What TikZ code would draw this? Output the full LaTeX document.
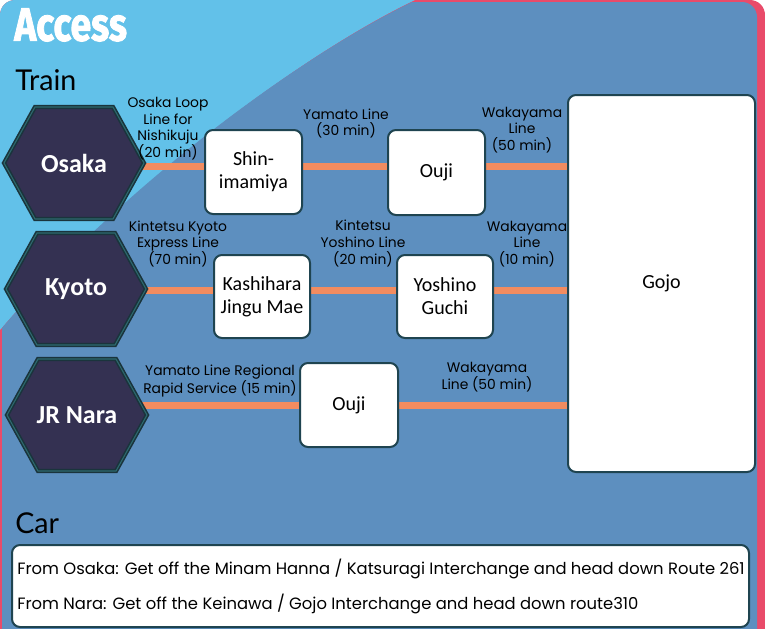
\documentclass[tikz,border=0pt]{standalone}
\usepackage{fontspec}
\usepackage{graphicx}
\setmainfont{Poppins}
\newfontfamily\labfont{Poppins}
\newfontfamily\stafont{Carlito}
\newfontfamily\headfont{Lato}
\newfontfamily\ttlfont{Fira Sans}[BoldFeatures={FakeBold=2}]
\definecolor{pinkbg}{RGB}{233,75,106}
\definecolor{lightbg}{RGB}{98,193,233}
\definecolor{darkbg}{RGB}{93,143,191}
\definecolor{hexfill}{RGB}{52,49,82}
\definecolor{hexline}{RGB}{26,52,60}
\definecolor{hexinner}{RGB}{45,105,110}
\definecolor{boxline}{RGB}{31,68,80}
\definecolor{railc}{RGB}{242,140,96}
\pgfdeclarelayer{back}
\pgfdeclarelayer{wires}
\pgfsetlayers{back,wires,main}
\tikzset{
  stationbox/.style={draw=boxline, line width=1.5pt, fill=white, rounded corners=6pt,
    align=center, inner sep=0pt, font=\stafont\fontsize{15}{17.25}\selectfont},
  hexlabel/.style={text=white, inner sep=0pt, font=\stafont\bfseries\fontsize{19.5}{22}\selectfont},
  linelabel/.style={align=center, inner sep=0pt, font=\labfont\fontsize{10.4}{12.5}\selectfont},
  railline/.style={draw=railc, line width=5.25pt},
  hexbody/.style={draw=hexline, line width=3.2pt, fill=hexfill, line join=miter},
  hexring/.style={draw=hexinner, line width=0.8pt, line join=miter},
  heading/.style={anchor=west, inner sep=0pt, font=\headfont\fontsize{21.5}{24}\selectfont},
  cartext/.style={anchor=west, inner sep=0pt, font=\labfont\fontsize{12.3}{14}\selectfont}
}
\newcommand\hexat[2]{%
  \path[hexbody] (#1-70,#2) -- (#1-39,#2-56) -- (#1+39,#2-56) -- (#1+70,#2) -- (#1+39,#2+56) -- (#1-39,#2+56) -- cycle;
  \path[hexring] (#1-70,#2) -- (#1-39,#2-56) -- (#1+39,#2-56) -- (#1+70,#2) -- (#1+39,#2+56) -- (#1-39,#2+56) -- cycle;}
\begin{document}
\begin{tikzpicture}[x=0.75pt,y=-0.75pt]
\useasboundingbox (0,0) rectangle (765,629);
% background
\begin{pgfonlayer}{back}
\fill[white] (0,0) rectangle (765,629);
\fill[pinkbg] (0,629) -- (0,15) arc[start angle=180,end angle=90,radius=15*0.75pt] -- (750,0) arc[start angle=90,end angle=0,radius=15*0.75pt] -- (765,629) -- cycle;
\fill[lightbg] (0,330) -- (0,15) arc[start angle=180,end angle=90,radius=15*0.75pt] -- (415,0) .. controls (300,55) and (120,190) .. (0,330) -- cycle;
\fill[darkbg] (2,629) -- (2,328) .. controls (120,188) and (300,56) .. (412,2) -- (742,2) arc[start angle=90,end angle=0,radius=15*0.75pt] -- (757,629) -- cycle;
\end{pgfonlayer}
% title and headings
\node[anchor=west, inner sep=0pt, text=white] (title) at (14,25) {\scalebox{0.8}[1]{\ttlfont\bfseries\fontsize{35}{37}\selectfont Access}};
\node[heading] (train) at (15,80) {Train};
\node[heading] (car) at (15,523) {Car};
% hexagons
\hexat{74}{163}
\hexat{76}{289}
\hexat{77}{415}
\node[hexlabel] (osaka) at (74,163) {Osaka};
\node[hexlabel] (kyoto) at (76,289) {Kyoto};
\node[hexlabel] (nara) at (77,415) {JR Nara};
% stations
\node[stationbox, minimum width=97*0.75pt, minimum height=84*0.75pt] (shin) at (253.5,172) {Shin-\\imamiya};
\node[stationbox, minimum width=97*0.75pt, minimum height=85*0.75pt] (oujia) at (436.5,172.5) {Ouji};
\node[stationbox, minimum width=187*0.75pt, minimum height=377*0.75pt] (gojo) at (661.5,283.5) {Gojo};
\node[stationbox, minimum width=96*0.75pt, minimum height=83*0.75pt] (kashi) at (262,296.5) {Kashihara\\Jingu Mae};
\node[stationbox, minimum width=96*0.75pt, minimum height=83*0.75pt] (yoshi) at (445,296.5) {Yoshino\\Guchi};
\node[stationbox, minimum width=98*0.75pt, minimum height=84*0.75pt] (oujib) at (349,405) {Ouji};
% rails
\begin{pgfonlayer}{wires}
\draw[railline] (osaka.center |- 0,166) -- (shin.center |- 0,166);
\draw[railline] (shin.center |- 0,166) -- (oujia.center |- 0,166);
\draw[railline] (oujia.center |- 0,166) -- (gojo.center |- 0,166);
\draw[railline] (kyoto.center |- 0,290) -- (kashi.center |- 0,290);
\draw[railline] (kashi.center |- 0,290) -- (yoshi.center |- 0,290);
\draw[railline] (yoshi.center |- 0,290) -- (gojo.center |- 0,290);
\draw[railline] (nara.center |- 0,405) -- (oujib.center);
\draw[railline] (oujib.center) -- (gojo.center |- 0,405);
\end{pgfonlayer}
% line labels
\node[linelabel] (l1) at (168,128.5) {Osaka Loop\\Line for\\Nishikuju\\(20 min)};
\node[linelabel] (l2) at (346,123.5) {Yamato Line\\(30 min)};
\node[linelabel] (l3) at (522,130) {Wakayama\\Line\\(50 min)};
\node[linelabel] (l4) at (178,244) {Kintetsu Kyoto\\Express Line\\(70 min)};
\node[linelabel] (l5) at (363,243.5) {Kintetsu\\Yoshino Line\\(20 min)};
\node[linelabel] (l6) at (527,244) {Wakayama\\Line\\(10 min)};
\node[linelabel] (l7) at (220,381.5) {Yamato Line Regional\\Rapid Service (15 min)};
\node[linelabel] (l8) at (487,377) {Wakayama\\Line (50 min)};
% car box
\node[stationbox, minimum width=737*0.75pt, minimum height=82*0.75pt] (carbox) at (380.5,586) {};
\node[cartext] (c1) at (17,569) {From Osaka: Get off the Minam Hanna / Katsuragi Interchange and head down Route 261};
\node[cartext] (c2) at (17,604) {From Nara: Get off the Keinawa / Gojo Interchange and head down route310};
\end{tikzpicture}
\end{document}
